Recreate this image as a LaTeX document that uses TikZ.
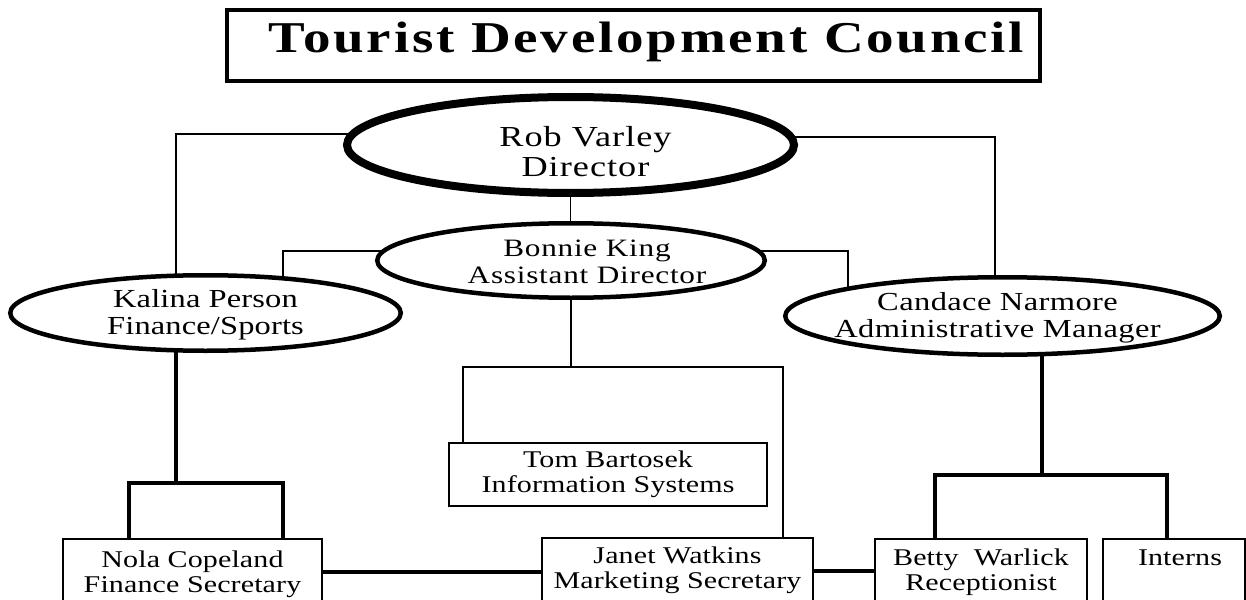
\documentclass[tikz,border=0pt]{standalone}
\usepackage{fontspec}
\setmainfont{Liberation Serif}
\newfontfamily\orgfont{Liberation Serif}[FakeStretch=1.25]
\usetikzlibrary{shapes.geometric}
% two centred lines whose baseline is the first line
\newcommand{\twoline}[2]{\begin{tabular}[t]{@{}c@{}}#1\\#2\end{tabular}}
\begin{document}
\begin{tikzpicture}[x=1pt,y=-1pt,
  every node/.style={outer sep=0pt},
  thinline/.style={line width=1.8pt},
  thickline/.style={line width=4.5pt},
  headbox/.style={rectangle, draw, line width=3.5pt, inner sep=0pt, anchor=north,
    font=\orgfont\bfseries\fontsize{44}{54}\selectfont\addfontfeature{LetterSpace=6.3}},
  oval/.style={ellipse, draw, line width=4.5pt, inner sep=0pt, inner xsep=-60pt},
  post/.style={rectangle, draw, line width=2pt, inner sep=0pt, anchor=north,
    text height=26pt, text depth=80pt,
    font=\orgfont\fontsize{24}{25}\selectfont\addfontfeature{LetterSpace=0.5}},
]
\useasboundingbox (0,0) rectangle (1246,599);
\clip (0,0) rectangle (1246,599);
\fill[white] (0,0) rectangle (1246,599);

% heading
\node[headbox, minimum width=813pt, text height=43pt, text depth=28pt] (title) at (633.5,10)
  {\hspace*{26pt}Tourist Development Council};

% people in ovals
\node[oval, line width=8pt, minimum width=447pt, minimum height=96pt,
  text height=21pt, text depth=19pt,
  font=\orgfont\fontsize{29}{31}\selectfont\addfontfeature{LetterSpace=3.5}] (rob) at (570.5,145)
  {\hspace*{30pt}\twoline{Rob Varley}{Director}};
\node[oval, minimum width=387.5pt, minimum height=74.5pt,
  text height=16pt, text depth=24pt,
  font=\orgfont\fontsize{25}{26.7}\selectfont\addfontfeature{LetterSpace=3}] (bonnie) at (571,260.5)
  {\hspace*{32pt}\twoline{Bonnie King}{Assistant Director}};
\node[oval, minimum width=390.5pt, minimum height=75.5pt,
  text height=14pt, text depth=26pt,
  font=\orgfont\fontsize{26}{27}\selectfont\addfontfeature{LetterSpace=0.5}] (kalina) at (205.5,313)
  {\twoline{Kalina Person}{Finance/Sports}};
\node[oval, minimum width=434.5pt, minimum height=77.5pt,
  text height=14pt, text depth=26pt,
  font=\orgfont\fontsize{26}{27}\selectfont\addfontfeature{LetterSpace=1.5}] (candace) at (1002.5,316)
  {\twoline{Candace Narmore}{Administrative Manager}\hspace*{10pt}};

% staff in boxes
\node[post, minimum width=318pt, text height=24pt, text depth=39pt] (tom) at (608,443)
  {\twoline{Tom Bartosek}{Information Systems}};
\node[post, minimum width=259pt, text height=28pt] (nola) at (192.5,539)
  {\twoline{Nola Copeland}{Finance Secretary}};
\node[post, minimum width=271pt, text height=25pt] (janet) at (677.5,538)
  {\twoline{Janet Watkins}{Marketing Secretary}};
\node[post, minimum width=212pt] (betty) at (981,539)
  {\twoline{Betty\ \ Warlick}{Receptionist}};
\node[post, minimum width=142pt] (interns) at (1174,539)
  {\hspace*{12pt}Interns};

% junctions
\coordinate (bj) at (571,367);
\coordinate (kj) at (176,483);
\coordinate (cj) at (1042,475);

% director and assistant director links
\draw[thinline] (rob.177.5) -| ([xshift=-29.5pt]kalina.north);
\draw[thinline] (rob.2.5) -| ([xshift=-7.5pt]candace.north);
\draw[thinline] (rob.south) -- (rob.south |- bonnie.north);
\draw[thinline] (bonnie.177) -| (kalina.24.4);
\draw[thinline] (bonnie.3) -| (candace.170.5);
\draw[thinline] (bonnie.south) -- (bj);
\draw[thinline] ([xshift=-145pt]tom.north) |- (bj) -| ([xshift=105.5pt]janet.north);

% manager links
\draw[thickline] ([xshift=-29.5pt]kalina.south) -- (kj);
\draw[thickline] ([xshift=-63.5pt]nola.north) |- (kj) -| ([xshift=90.5pt]nola.north);
\draw[thickline] ([xshift=39.5pt]candace.south) -- (cj);
\draw[thickline] ([xshift=-46pt]betty.north) |- (cj) -| ([xshift=-7pt]interns.north);

% secretaries row
\draw[thickline] ([yshift=-33pt]nola.north east) -- ([yshift=-34pt]janet.north west);
\draw[thickline] ([yshift=-33pt]janet.north east) -- ([yshift=-32pt]betty.north west);
\end{tikzpicture}
\end{document}
